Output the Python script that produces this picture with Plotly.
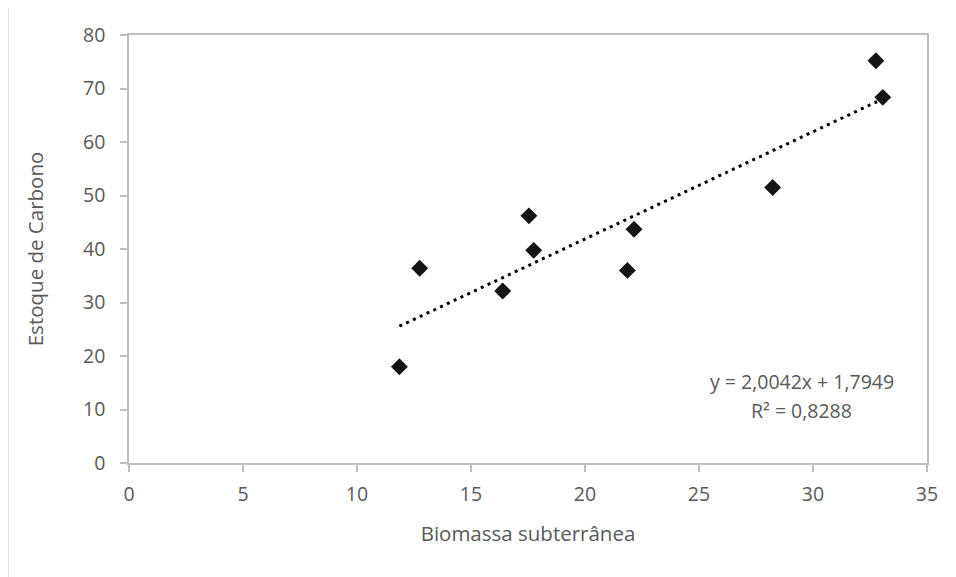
import plotly.graph_objects as go

biomassa = [11.86, 12.75, 16.39, 17.54, 17.75, 21.86, 22.15, 28.23, 32.76, 33.06]
estoque = [18.0, 36.4, 32.15, 46.2, 39.75, 36.0, 43.7, 51.5, 75.2, 68.35]
slope = 2.0042
intercept = 1.7949
r2_label = "R² = 0,8288"
eq_label = "y = 2,0042x + 1,7949"
x_ticks = [0, 5, 10, 15, 20, 25, 30, 35]
y_ticks = [0, 10, 20, 30, 40, 50, 60, 70, 80]

trend_x = [min(biomassa), max(biomassa)]
trend_y = [slope * v + intercept for v in trend_x]

FONT = "Open Sans"
GRAY = "#595959"
AX = "#bfbfbf"

fig = go.Figure()
fig.add_trace(go.Scatter(
    x=trend_x, y=trend_y, mode="lines",
    line=dict(color="#000000", width=3, dash="3px,4.5px"),
    hoverinfo="skip", showlegend=False))
fig.add_trace(go.Scatter(
    x=biomassa, y=estoque, mode="markers",
    marker=dict(symbol="diamond", size=13, color="#141414"),
    showlegend=False))

for txt, anchor in [(eq_label, "bottom"), (r2_label, "top")]:
    fig.add_annotation(
        x=0.843, y=0.1565, xref="paper", yref="paper", xanchor="center", yanchor=anchor,
        text=txt, showarrow=False, borderpad=0,
        font=dict(family=FONT, size=19.5, color=GRAY))

fig.add_shape(type="rect", xref="paper", yref="paper",
              x0=-0.1516, x1=1.05, y0=-0.3, y1=1.0701,
              line=dict(color="#d9d9d9", width=1.5), layer="below")

fig.update_layout(
    width=948, height=569,
    margin=dict(l=121, r=29, t=27, b=114),
    paper_bgcolor="white", plot_bgcolor="white",
    font=dict(family=FONT, size=19.5, color=GRAY),
    xaxis=dict(
        range=[0, 35], tickvals=x_ticks, showgrid=False, zeroline=False,
        showline=True, linecolor=AX, linewidth=1.5, mirror=True,
        ticks="outside", ticklen=7, tickcolor=AX, tickwidth=1.5,
        ticklabelstandoff=6,
        title=dict(text="Biomassa subterrânea", font=dict(size=20.5), standoff=20),
        tickfont=dict(size=19.5, color=GRAY)),
    yaxis=dict(
        range=[0, 80], tickvals=y_ticks, showgrid=False, zeroline=False,
        showline=True, linecolor=AX, linewidth=1.5, mirror=True,
        ticks="outside", ticklen=7, tickcolor=AX, tickwidth=1.5,
        ticklabelstandoff=11,
        title=dict(text="Estoque de Carbono", font=dict(size=20.5), standoff=34),
        tickfont=dict(size=19.5, color=GRAY)),
)

fig.write_html("out.html")
